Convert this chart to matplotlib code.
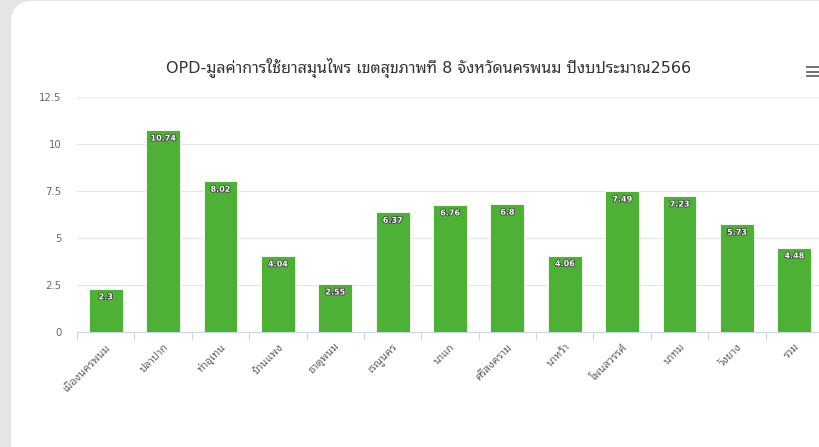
import matplotlib
matplotlib.use("Agg")
import matplotlib.pyplot as plt
import matplotlib.patheffects as pe
from matplotlib.patches import FancyBboxPatch
from matplotlib.lines import Line2D
from matplotlib.transforms import IdentityTransform

FONT = ['DejaVu Sans', 'Noto Sans Thai Looped']

districts = ["เมืองนครพนม", "ปลาปาก", "ท่าอุเทน", "บ้านแพง", "ธาตุพนม", "เรณูนคร",
             "นาแก", "ศรีสงคราม", "นาหว้า", "โพนสวรรค์", "นาทม", "วังยาง", "รวม"]
values = [2.3, 10.74, 8.02, 4.04, 2.55, 6.37, 6.76, 6.8, 4.06, 7.49, 7.23, 5.73, 4.48]
yticks = [0, 2.5, 5, 7.5, 10, 12.5]
title = "OPD-มูลค่าการใช้ยาสมุนไพร เขตสุขภาพที่ 8 จังหวัดนครพนม ปีงบประมาณ2566"

W, H = 820, 447
fig = plt.figure(figsize=(W / 100, H / 100), dpi=100)
fig.patch.set_facecolor('#e5e5e5')

# white card with rounded corner (display pixels)
card = FancyBboxPatch((11, -60), 900, H - 1 + 60, boxstyle="round,pad=0,rounding_size=22",
                      transform=IdentityTransform(), facecolor='white', edgecolor='none', zorder=-5)
fig.patches.append(card)

ax = fig.add_axes([77 / W, (H - 332) / H, 746 / W, 235 / H])
ax.set_zorder(2)
ax.set_facecolor('none')
x = range(len(districts))
bars = ax.bar(x, values, width=0.59, color='#4cb135', edgecolor='white', linewidth=0.6, zorder=3)

for xi, v in zip(x, values):
    ax.annotate(f"{v:g}", (xi, v), xytext=(0, -8), textcoords='offset pixels',
                ha='center', va='center', fontsize=5.8, color='white', fontweight='bold',
                family=FONT, zorder=4,
                path_effects=[pe.withStroke(linewidth=1.1, foreground='#3a3a3a')])

ax.set_xlim(-0.5, len(districts) - 0.5)
ax.set_ylim(0, 12.5)
ax.set_yticks(yticks)
ax.set_yticklabels([f"{t:g}" for t in yticks], fontsize=7.3, color='#666666', family=FONT)
ax.grid(axis='y', color='#e6e6e6', linewidth=0.8, zorder=0)
ax.tick_params(axis='y', length=0, pad=11)

ax.set_xticks(list(x))
ax.set_xticklabels(districts, rotation=45, ha='right', rotation_mode='anchor',
                   fontsize=7.8, color='#666666', family=FONT)
ax.set_xticks([i - 0.5 for i in range(len(districts) + 1)], minor=True)
ax.tick_params(axis='x', which='major', length=0, pad=7)
ax.tick_params(axis='x', which='minor', length=6, color='#ccd6eb', width=0.8)

for s in ['top', 'right', 'left']:
    ax.spines[s].set_visible(False)
ax.spines['bottom'].set_color('#ccd6eb')
ax.spines['bottom'].set_linewidth(0.8)

fig.text(429 / W, 1 - 68 / H, title, ha='center', va='center', fontsize=11.5,
         color='#333333', family=FONT)

# menu icon
for yy in (67, 71.5, 76):
    fig.add_artist(Line2D([807 / W, 819 / W], [1 - yy / H, 1 - yy / H],
                          color='#666666', linewidth=1.3, transform=fig.transFigure))

fig.savefig("out.png", dpi=100, facecolor=fig.get_facecolor())
